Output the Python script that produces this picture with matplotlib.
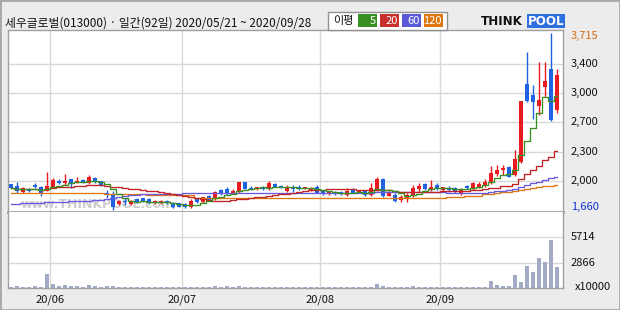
import matplotlib
matplotlib.use('Agg')
import matplotlib.pyplot as plt
from matplotlib.patches import Rectangle
import numpy as np
import pandas as pd

plt.rcParams['font.family'] = ['Noto Sans CJK KR', 'DejaVu Sans']

# ---------------- data ----------------
title = "세우글로벌(013000) · 일간(92일) 2020/05/21 ~ 2020/09/28"

opens = [1958, 1943, 1865, 1904, 1950, 1931, 1880, 1931, 2000, 1970,
         2016, 1981, 2008, 1973, 2035, 1993, 1855, 1842, 1730, 1768,
         1730, 1784, 1795, 1788, 1737, 1737, 1768, 1737, 1737, 1726,
         1691, 1788, 1749, 1822, 1788, 1892, 1904, 1861, 1865, 1981,
         1920, 1900, 1919, 1904, 1962, 1939, 1884, 1919, 1928, 1912,
         1884, 1931, 1880, 1842, 1865, 1873, 1834, 1904, 1865, 1880,
         1834, 1892, 2020, 1826, 1834, 1776, 1795, 1822, 1900, 1958,
         1892, 1950, 1892, 1919, 1912, 1846, 1942, 1900, 1931, 1939,
         1970, 2078, 2124, 2155, 2066, 2221, 3123, 2995, 2867, 3092,
         3297, 2821]
highs = [1966, 1989, 1931, 1912, 1970, 1939, 2101, 2028, 2016, 2078,
         2024, 2047, 2016, 2066, 2047, 2000, 1895, 1880, 1776, 1795,
         1780, 1795, 1800, 1795, 1776, 1776, 1776, 1757, 1745, 1745,
         1788, 1795, 1815, 1830, 1880, 1900, 1923, 1908, 1989, 1989,
         1935, 1930, 1935, 1997, 1970, 1950, 1950, 1950, 1955, 1925,
         1930, 1950, 1888, 1880, 1884, 1880, 1911, 1911, 1888, 1888,
         1978, 2047, 2028, 1880, 1853, 1834, 1861, 1950, 1970, 1977,
         2008, 1977, 1930, 1939, 1923, 1910, 1950, 1985, 1989, 2016,
         2171, 2182, 2182, 2171, 2357, 2925, 3498, 3111, 3382, 3382,
         3715, 3297]
lows = [1912, 1861, 1858, 1873, 1919, 1822, 1877, 1923, 1958, 1950,
        1919, 1970, 1970, 1962, 1970, 1935, 1800, 1660, 1722, 1718,
        1722, 1745, 1749, 1730, 1730, 1730, 1730, 1680, 1691, 1687,
        1684, 1741, 1741, 1768, 1776, 1838, 1834, 1853, 1853, 1900,
        1895, 1895, 1895, 1892, 1923, 1915, 1873, 1873, 1890, 1905,
        1876, 1853, 1834, 1834, 1834, 1834, 1822, 1853, 1858, 1826,
        1826, 1884, 1815, 1818, 1749, 1749, 1749, 1814, 1873, 1892,
        1884, 1892, 1885, 1873, 1853, 1840, 1905, 1895, 1919, 1931,
        1962, 2055, 2066, 2039, 2055, 2210, 2917, 2713, 2763, 2976,
        2697, 2790]
closes = [1919, 1885, 1919, 1885, 1923, 1853, 1942, 2008, 1970, 1997,
          1962, 1997, 1977, 2047, 1989, 1940, 1845, 1699, 1768, 1749,
          1768, 1757, 1757, 1737, 1768, 1768, 1737, 1699, 1699, 1699,
          1768, 1749, 1807, 1776, 1873, 1846, 1853, 1880, 1981, 1904,
          1905, 1923, 1904, 1970, 1931, 1923, 1923, 1904, 1905, 1915,
          1919, 1861, 1842, 1873, 1850, 1842, 1884, 1861, 1880, 1834,
          1912, 2020, 1822, 1873, 1764, 1807, 1834, 1912, 1939, 1904,
          1923, 1912, 1923, 1892, 1884, 1904, 1912, 1977, 1962, 1989,
          2086, 2124, 2144, 2047, 2248, 2925, 2925, 2917, 2937, 3158,
          2705, 3227]
volumes = [150, 190, 80, 80, 190, 80, 1620, 460, 190, 310,
           190, 190, 80, 310, 190, 80, 190, 190, 70, 70,
           70, 70, 70, 70, 70, 70, 70, 70, 70, 70,
           70, 70, 70, 70, 190, 110, 190, 90, 190, 70,
           70, 70, 70, 70, 70, 70, 70, 70, 70, 70,
           70, 70, 70, 70, 70, 70, 70, 70, 70, 70,
           70, 460, 190, 70, 70, 70, 70, 190, 70, 70,
           70, 70, 70, 70, 70, 70, 70, 70, 70, 70,
           770, 350, 190, 190, 1470, 660, 2510, 1810, 3430, 2970,
           5400, 2390]
ma60 = [1730, 1733, 1736, 1739, 1742, 1745, 1748, 1751, 1754, 1757,
        1760, 1763, 1766, 1769, 1772, 1776, 1788, 1800, 1812, 1822,
        1832, 1838, 1842, 1842, 1842, 1842, 1842, 1842, 1842, 1860,
        1860, 1860, 1860, 1860, 1860, 1860, 1860, 1860, 1860, 1860,
        1860, 1862, 1862, 1862, 1862, 1862, 1862, 1862, 1862, 1862,
        1862, 1862, 1862, 1862, 1862, 1862, 1862, 1862, 1862, 1862,
        1862, 1864, 1864, 1864, 1864, 1864, 1864, 1864, 1864, 1864,
        1864, 1864, 1864, 1855, 1855, 1855, 1855, 1855, 1855, 1860,
        1868, 1876, 1884, 1892, 1905, 1925, 1948, 1970, 1990, 2010,
        2028, 2047]
ma120 = [1858, 1858, 1858, 1858, 1858, 1858, 1858, 1858, 1858, 1858,
         1858, 1858, 1858, 1858, 1858, 1858, 1850, 1850, 1850, 1850,
         1850, 1850, 1850, 1832, 1832, 1832, 1832, 1832, 1832, 1832,
         1832, 1805, 1805, 1805, 1805, 1805, 1805, 1805, 1805, 1805,
         1805, 1805, 1805, 1805, 1805, 1805, 1805, 1805, 1805, 1805,
         1805, 1805, 1795, 1795, 1795, 1795, 1795, 1795, 1795, 1795,
         1795, 1795, 1795, 1795, 1795, 1795, 1795, 1795, 1795, 1795,
         1795, 1795, 1795, 1807, 1807, 1807, 1822, 1822, 1822, 1842,
         1850, 1858, 1866, 1874, 1884, 1895, 1906, 1916, 1926, 1935,
         1943, 1950]

month_labels = ['20/06', '20/07', '20/08', '20/09']
month_start_idx = [7, 29, 52, 72]
price_tick_labels = ['2,000', '2,300', '2,700', '3,000', '3,400']
price_max, price_min = 3715, 1660
vol_tick_labels = ['2866', '5714']
vol_tick_vals = [2866, 5714]
legend_items = ['5', '20', '60', '120']

# ---------------- styling ----------------
RED = '#ea1a20'
BLUE = '#1f63e4'
C_MA5, C_MA20, C_MA60, C_MA120 = '#3a8f22', '#c02424', '#6a5ae0', '#e07810'
GRID = '#d8d8d8'
FRAME = '#a0a0a0'
FS = 8.0

W, H = 620, 310
fig = plt.figure(figsize=(6.2, 3.1), dpi=100)
fig.patch.set_facecolor('#ececec')


def fx(px):
    return px / W


def fy(py):
    return 1 - py / H


ax = fig.add_axes([fx(8), fy(212), fx(563) - fx(8), fy(30) - fy(212)])
axv = fig.add_axes([fx(8), fy(288), fx(563) - fx(8), fy(212) - fy(288)], sharex=ax)

x = np.arange(len(closes))
o = np.array(opens, float)
h = np.array(highs, float)
l = np.array(lows, float)
c = np.array(closes, float)
v = np.array(volumes, float)

cs = pd.Series(c)
ma5 = cs.rolling(5, min_periods=1).mean().values
ma20 = cs.rolling(20, min_periods=1).mean().values

# price panel
ax.set_facecolor('white')
ax.set_xlim(-0.5, 92.0)
ax.set_ylim(1637, 3750)
colors = np.where(c >= o, RED, BLUE)
ax.vlines(x, l, h, colors=colors, linewidth=1.0, zorder=3)
body_bottom = np.minimum(o, c)
body_h = np.maximum(np.abs(c - o), 10)
ax.bar(x, body_h, bottom=body_bottom, width=0.68, color=colors,
       linewidth=0, zorder=4)

ax.plot(x, ma120, color=C_MA120, lw=0.95, drawstyle='steps-mid', zorder=5)
ax.plot(x, ma60, color=C_MA60, lw=0.95, drawstyle='steps-mid', zorder=5)
ax.plot(x, ma20, color=C_MA20, lw=0.95, drawstyle='steps-mid', zorder=5)
ax.plot(x, ma5, color=C_MA5, lw=0.95, drawstyle='steps-mid', zorder=5)

grid_step = (price_max - price_min) / 6.05
grid_vals = [price_min + grid_step * k for k in range(1, 6)]
ax.set_yticks(grid_vals)
grid_x = [i - 0.45 for i in month_start_idx]
ax.set_xticks(grid_x)
ax.grid(True, color=GRID, lw=1.0, zorder=0)
ax.tick_params(length=0, labelleft=False, labelbottom=False)
for s in ax.spines.values():
    s.set_color(FRAME)
    s.set_linewidth(1.0)
ax.spines['bottom'].set_linewidth(2.0)

ytf = ax.get_yaxis_transform()
lx = 1 + 8 / 555
for val, lab in zip(grid_vals, price_tick_labels):
    ax.text(lx, val, lab, transform=ytf, va='center', ha='left',
            fontsize=FS, color='#111111', clip_on=False)
ax.annotate('3,715', xy=(lx, price_max), xycoords=ytf, xytext=(0, -3),
            textcoords='offset pixels', va='center', ha='left',
            fontsize=FS, color='#d86a10', annotation_clip=False)
ax.annotate('1,660', xy=(lx, price_min), xycoords=ytf, xytext=(0, 3),
            textcoords='offset pixels', va='center', ha='left',
            fontsize=FS, color='#1030d8', annotation_clip=False)

# watermark (single text so pieces never overlap)
ax.text(fx(21), fy(204), 'www.THINKPOOL.com', transform=fig.transFigure,
        fontsize=9, color='#cdcdcd', fontweight='bold', va='center',
        ha='left', zorder=1, family='DejaVu Sans')

# volume panel
axv.set_facecolor('white')
axv.set_ylim(0, 5714 * 1.5)
axv.bar(x, v, width=0.72, color='#a2abc3', linewidth=0, zorder=3)
axv.set_yticks(vol_tick_vals)
axv.set_xticks(grid_x)
axv.set_xticklabels(month_labels)
axv.grid(True, color=GRID, lw=1.0, zorder=0)
axv.tick_params(axis='y', length=0, labelleft=False)
axv.tick_params(axis='x', length=0, pad=5, labelsize=FS, colors='#111111')
for s in axv.spines.values():
    s.set_color(FRAME)
    s.set_linewidth(1.0)
axv.spines['top'].set_visible(False)
vtf = axv.get_yaxis_transform()
for val, lab in zip(vol_tick_vals, vol_tick_labels):
    axv.text(lx, val, lab, transform=vtf, va='center', ha='left',
             fontsize=FS, color='#111111', clip_on=False)
fig.text(fx(575), fy(287), 'x10000', va='center', ha='left', fontsize=FS,
         color='#111111')

# title
fig.text(fx(5), fy(23), title, va='center', ha='left', fontsize=8.5,
         color='#111111')

# legend box
fig.patches.append(Rectangle((fx(328), fy(30)), fx(447) - fx(328), fy(12) - fy(30),
                             transform=fig.transFigure, facecolor='white',
                             edgecolor='#909090', lw=1.0))
fig.text(fx(333), fy(21), '이평', va='center', ha='left', fontsize=FS, color='#111111')
box_x = [358, 380, 402, 424]
box_c = [C_MA5, '#c8302c', '#5a5ad8', '#e07810']
for bx, bc, lab in zip(box_x, box_c, legend_items):
    fig.patches.append(Rectangle((fx(bx), fy(27)), fx(19), fy(14) - fy(27),
                                 transform=fig.transFigure, facecolor=bc,
                                 edgecolor='none'))
    fig.text(fx(bx + 18), fy(21), lab, va='center', ha='right', fontsize=FS,
             color='white')

# logo
fig.text(fx(481), fy(21.5), 'THINK', va='center', ha='left', fontsize=8.6,
         fontweight='bold', color='#111111', family='DejaVu Sans')
fig.patches.append(Rectangle((fx(527), fy(28)), fx(38), fy(14) - fy(28),
                             transform=fig.transFigure, facecolor='#2f6fe0',
                             edgecolor='none'))
fig.text(fx(546), fy(21.5), 'POOL', va='center', ha='center', fontsize=8.6,
         fontweight='bold', color='white', family='DejaVu Sans')

# outer frame
fig.patches.append(Rectangle((0, 0), 1, 1, transform=fig.transFigure,
                             facecolor='none', edgecolor='#a8a8a8', lw=2))

fig.savefig('out.png', dpi=100, facecolor=fig.get_facecolor())
